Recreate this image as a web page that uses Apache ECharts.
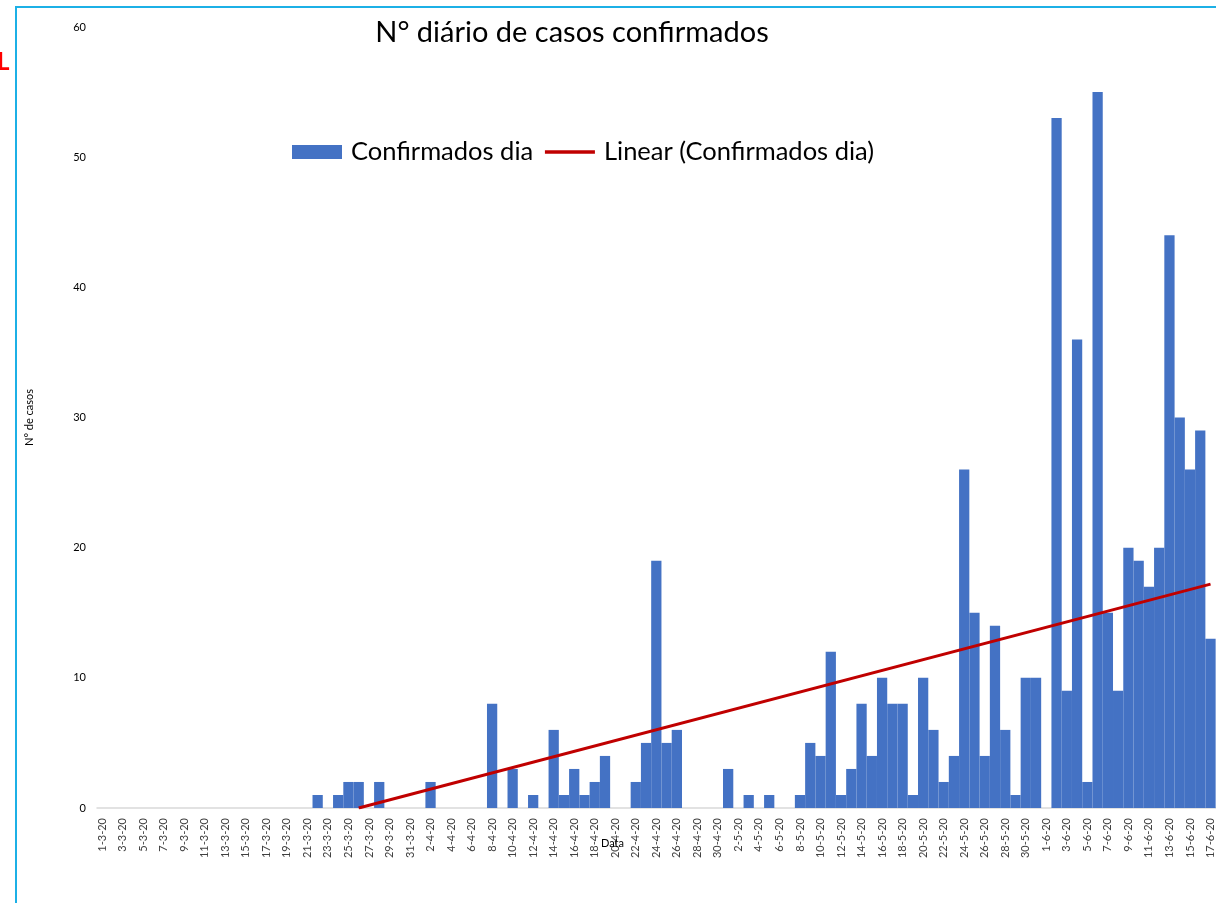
<!DOCTYPE html>
<html>
<head>
<meta charset="utf-8">
<title>N° diário de casos confirmados</title>
<script src="https://cdn.jsdelivr.net/npm/echarts@6/dist/echarts.min.js"></script>
<style>
  html, body { margin: 0; padding: 0; background: #fff; }
  #chart { width: 1216px; height: 903px; }
</style>
</head>
<body>
<div id="chart"></div>
<script>
// categorias: um dia por barra, de 1-3-20 a 17-6-20
const months = [3, 4, 5, 6];
const monthDays = [31, 30, 31, 17];
const categories = [];
months.forEach((m, k) => {
  for (let d = 1; d <= monthDays[k]; d++) categories.push(d + "-" + m + "-20");
});

// casos confirmados por dia
const marco = [0, 0, 0, 0, 0, 0, 0, 0, 0, 0, 0, 0, 0, 0, 0, 0, 0, 0, 0, 0, 0, 1, 0, 1, 2, 2, 0, 2, 0, 0, 0];
const abril = [0, 2, 0, 0, 0, 0, 0, 8, 0, 3, 0, 1, 0, 6, 1, 3, 1, 2, 4, 0, 0, 2, 5, 19, 5, 6, 0, 0, 0, 0];
const maio = [3, 0, 1, 0, 1, 0, 0, 1, 5, 4, 12, 1, 3, 8, 4, 10, 8, 8, 1, 10, 6, 2, 4, 26, 15, 4, 14, 6, 1, 10, 10];
const junho = [0, 53, 9, 36, 2, 55, 15, 9, 20, 19, 17, 20, 44, 30, 26, 29, 13];
const confirmados = [...marco, ...abril, ...maio, ...junho];

// linha de tendência (extremos)
const trendDates = ["26-3-20", "17-6-20"];
const trendValues = [0, 17.2];

const yTicks = [0, 10, 20, 30, 40, 50, 60];

const chart = echarts.init(document.getElementById("chart"));

const option = {
  animation: false,
  textStyle: { fontFamily: "Lato" },
  title: {
    text: "N° diário de casos confirmados",
    left: 567,
    top: 13,
    textAlign: "center",
    textStyle: { fontFamily: "Lato", fontSize: 29, fontWeight: "normal", color: "#000" },
  },
  legend: {
    left: 287,
    top: 134,
    itemWidth: 50,
    itemHeight: 14,
    itemGap: 10,
    textStyle: { fontFamily: "Lato", fontSize: 25.5, color: "#000", padding: [0, 0, 0, 4] },
    data: [
      { name: "Confirmados dia", icon: "rect" },
      {
        name: "Linear (Confirmados dia)",
        itemStyle: { opacity: 0 },
        lineStyle: { color: "#C00000", width: 3.5 },
      },
    ],
  },
  grid: {
    left: 97,
    right: -1,
    top: 27,
    bottom: 95,
  },
  xAxis: {
    type: "category",
    data: categories,
    axisLine: { lineStyle: { color: "#D9D9D9", width: 1.5 } },
    axisTick: { interval: 1, length: 5, lineStyle: { color: "#D9D9D9" } },
    axisLabel: {
      interval: 1,
      rotate: 90,
      fontSize: 11,
      margin: 10,
      color: "#404040",
      fontFamily: "Lato",
    },
  },
  yAxis: {
    type: "value",
    min: yTicks[0],
    max: yTicks[yTicks.length - 1],
    interval: 10,
    name: "N° de casos",
    nameLocation: "middle",
    nameGap: 62,
    nameTextStyle: { fontSize: 11, color: "#000", fontFamily: "Lato" },
    axisLine: { show: false },
    axisTick: { show: false },
    splitLine: { show: false },
    axisLabel: { fontSize: 11, margin: 11, color: "#000", fontFamily: "Lato" },
  },
  graphic: [
    // moldura do gráfico (bordas azuis)
    { type: "rect", shape: { x: 15, y: 6, width: 1210, height: 2 }, style: { fill: "#1CB0E6" } },
    { type: "rect", shape: { x: 15, y: 6, width: 2, height: 900 }, style: { fill: "#1CB0E6" } },
    {
      type: "text",
      x: -3,
      y: 50,
      style: { text: "L", fill: "#FF0000", font: "bold 24px Lato" },
    },
    {
      type: "text",
      left: 601,
      top: 838,
      z: 10,
      style: { text: "Data", fill: "#000", font: "11px Lato" },
    },
  ],
  series: [
    {
      name: "Confirmados dia",
      type: "bar",
      barCategoryGap: "0%",
      itemStyle: { color: "#4472C4" },
      data: confirmados,
    },
    {
      name: "Linear (Confirmados dia)",
      type: "line",
      symbol: "none",
      lineStyle: { color: "#C00000", width: 3 },
      itemStyle: { color: "#C00000" },
      data: trendDates.map((d, i) => [d, trendValues[i]]),
    },
  ],
};

chart.setOption(option);
window.addEventListener("resize", () => chart.resize());
</script>
</body>
</html>
